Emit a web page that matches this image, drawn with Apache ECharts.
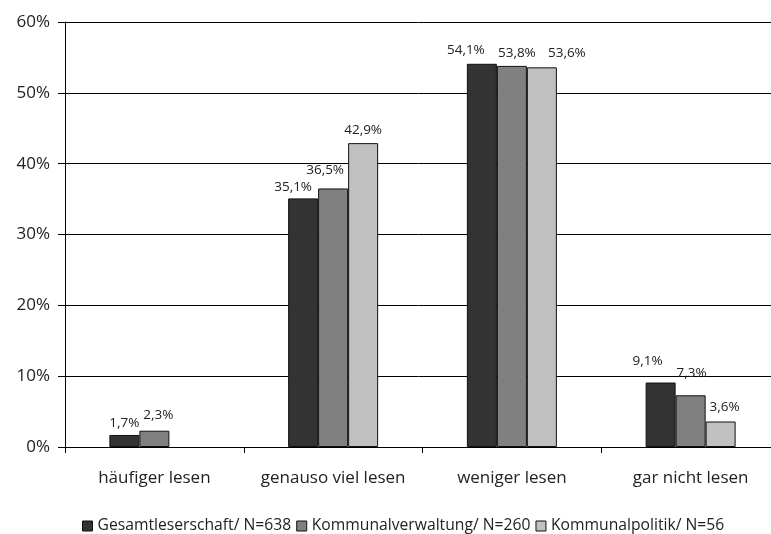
<!DOCTYPE html>
<html>
<head>
<meta charset="utf-8">
<script src="https://cdn.jsdelivr.net/npm/echarts@6/dist/echarts.min.js"></script>
<style>
  html, body { margin: 0; padding: 0; background: #fff; }
  #chart { width: 771px; height: 534px; }
</style>
</head>
<body>
<div id="chart"></div>
<script>
// Lesehäufigkeit nach Lesergruppe (Anteile in Prozent)
const categories = ['häufiger lesen', 'genauso viel lesen', 'weniger lesen', 'gar nicht lesen'];
const seriesNames = ['Gesamtleserschaft/ N=638', 'Kommunalverwaltung/ N=260', 'Kommunalpolitik/ N=56'];
const gesamt = [1.7, 35.1, 54.1, 9.1];
const verwaltung = [2.3, 36.5, 53.8, 7.3];
const politik = ['-', 42.9, 53.6, 3.6];
const yTicks = [0, 10, 20, 30, 40, 50, 60];

// styling
const colors = ['#333333', '#808080', '#c0c0c0'];
const FONT = '"Open Sans", Lato, sans-serif';
// hand-placed nudges for value labels so neighbours don't collide: [dx, dy]
const labelNudges = [
  [[0, -1], [-10, 0], [-16, -3], [-13, -10]],
  [[4, -5], [-8, -7], [5, -2], [1, -11]],
  [[0, 0], [0, -2], [25, -3], [4, -3]]
];

const fmt = v => v.toFixed(1).replace('.', ',') + '%';

function makeSeries(idx, data) {
  return {
    name: seriesNames[idx],
    type: 'bar',
    data: data.map((v, i) => ({
      value: v,
      label: { offset: labelNudges[idx][i] }
    })),
    barWidth: 30,
    barGap: '0%',
    itemStyle: { color: colors[idx], borderColor: '#111', borderWidth: 1 },
    label: {
      show: true,
      position: 'top',
      distance: 4,
      color: '#222',
      fontFamily: FONT,
      fontSize: 13.5,
      formatter: p => fmt(p.value)
    },
    emphasis: { disabled: true }
  };
}

const chart = echarts.init(document.getElementById('chart'), null, { renderer: 'canvas' });
chart.setOption({
  animation: false,
  backgroundColor: '#fff',
  textStyle: { fontFamily: FONT },
  // the plot runs slightly past the right edge of the canvas
  grid: { left: 65, width: 715, top: 22, height: 425, containLabel: false, outerBoundsMode: 'none' },
  legend: {
    top: 513,
    left: 77,
    itemWidth: 10,
    itemHeight: 10,
    itemGap: 5,
    icon: 'rect',
    textStyle: { fontFamily: FONT, fontSize: 15.7, color: '#222' },
    itemStyle: { borderColor: '#111', borderWidth: 1 },
    data: seriesNames
  },
  xAxis: {
    type: 'category',
    data: categories,
    axisLine: { lineStyle: { color: '#000', width: 1 } },
    axisTick: { show: true, length: 6, interval: 0, lineStyle: { color: '#000' } },
    axisLabel: { fontFamily: FONT, fontSize: 17, color: '#222', margin: 23, interval: 0 }
  },
  yAxis: {
    type: 'value',
    min: yTicks[0],
    max: yTicks[yTicks.length - 1],
    interval: 10,
    axisLine: { show: true, lineStyle: { color: '#000', width: 1 } },
    axisTick: { show: true, length: 7, lineStyle: { color: '#000' } },
    axisLabel: { fontFamily: FONT, fontSize: 17, color: '#222', margin: 15, formatter: v => v + '%' },
    splitLine: { show: true, lineStyle: { color: '#000', width: 1 } }
  },
  series: [
    makeSeries(0, gesamt),
    makeSeries(1, verwaltung),
    makeSeries(2, politik)
  ]
});
</script>
</body>
</html>
